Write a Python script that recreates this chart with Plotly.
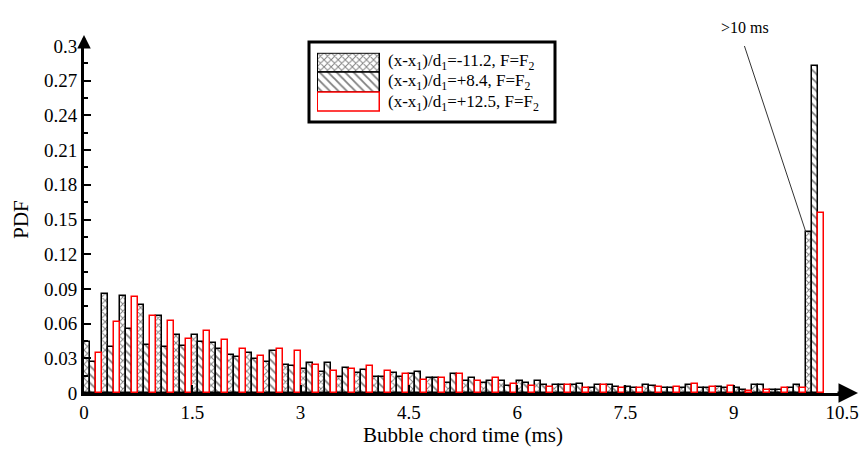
import plotly.graph_objects as go

# ---------------- data ----------------
bin_width = 0.25
bin_left = [bin_width * i for i in range(41)]          # last bin = ">10 ms"
bin_center = [b + bin_width / 2 for b in bin_left]

pdf_m112 = [0.044, 0.086, 0.084, 0.076, 0.067, 0.050, 0.050, 0.043, 0.033, 0.035,
            0.027, 0.024, 0.021, 0.018, 0.014, 0.017, 0.014, 0.017, 0.016, 0.013,
            0.009, 0.010, 0.009, 0.010, 0.010, 0.010, 0.007, 0.007, 0.004, 0.007,
            0.0055, 0.0066, 0.004, 0.004, 0.004, 0.005, 0.004, 0.0066, 0.003, 0.004,
            0.139]
pdf_p84 = [0.027, 0.040, 0.055, 0.0415, 0.040, 0.041, 0.044, 0.038, 0.031, 0.029,
           0.036, 0.023, 0.026, 0.026, 0.022, 0.020, 0.014, 0.014, 0.018, 0.013,
           0.016, 0.013, 0.010, 0.006, 0.009, 0.0066, 0.0066, 0.008, 0.0066, 0.005,
           0.004, 0.006, 0.004, 0.0066, 0.004, 0.004, 0.003, 0.0066, 0.003, 0.0066,
           0.283]
pdf_p125 = [0.035, 0.061, 0.083, 0.067, 0.062, 0.047, 0.054, 0.046, 0.038, 0.032,
            0.038, 0.036, 0.024, 0.019, 0.021, 0.023, 0.019, 0.016, 0.0115, 0.013,
            0.016, 0.010, 0.013, 0.008, 0.006, 0.0055, 0.0066, 0.004, 0.0066, 0.004,
            0.004, 0.005, 0.005, 0.008, 0.0055, 0.006, 0.002, 0.0026, 0.004, 0.004,
            0.156]

series_names = ["(x-x<sub>1</sub>)/d<sub>1</sub>=-11.2, F=F<sub>2</sub>",
                "(x-x<sub>1</sub>)/d<sub>1</sub>=+8.4, F=F<sub>2</sub>",
                "(x-x<sub>1</sub>)/d<sub>1</sub>=+12.5, F=F<sub>2</sub>"]

x_ticks = [0, 1.5, 3, 4.5, 6, 7.5, 9, 10.5]
x_ticktext = ["0", "1.5", "3", "4.5", "6", "7.5", "9", "10.5"]
y_ticks = [0, 0.03, 0.06, 0.09, 0.12, 0.15, 0.18, 0.21, 0.24, 0.27, 0.3]
y_ticktext = ["0", "0.03", "0.06", "0.09", "0.12", "0.15", "0.18", "0.21", "0.24", "0.27", "0.3"]

# ---------------- figure ----------------
FONT = "Liberation Serif"
W, H = 859, 451
ML, MR, MT, MB = 84, 17, 46, 58
PW, PH = W - ML - MR, H - MT - MB

def px_x(p):  # pixel -> paper x
    return (p - ML) / PW

def px_y(p):  # pixel -> paper y
    return (H - MB - p) / PH

fig = go.Figure()

styles = [
    dict(color="white", line=dict(color="black", width=1.5),
         pattern=dict(shape="x", fgcolor="black", bgcolor="white", size=5, solidity=0.35)),
    dict(color="white", line=dict(color="black", width=1.5),
         pattern=dict(shape="\\", fgcolor="black", bgcolor="white", size=6, solidity=0.3)),
    dict(color="white", line=dict(color="red", width=1.5)),
]
for vals, name, st in zip([pdf_m112, pdf_p84, pdf_p125], series_names, styles):
    fig.add_trace(go.Bar(x=bin_center, y=vals, name=name, marker=st, showlegend=False))

# legend swatches (inset axes)
fig.add_trace(go.Bar(
    x=[1, 1, 1], y=[2, 1, 0], orientation="h", width=1,
    xaxis="x2", yaxis="y2", showlegend=False,
    marker=dict(color="white",
                line=dict(color=["black", "black", "red"], width=1.5),
                pattern=dict(shape=["x", "\\", ""], fgcolor="black", bgcolor="white",
                             size=[5, 6, 6], solidity=[0.35, 0.3, 0.3])),
))

fig.update_layout(
    width=W, height=H,
    margin=dict(l=ML, r=MR, t=MT, b=MB),
    paper_bgcolor="white", plot_bgcolor="white",
    barmode="group", bargap=0, bargroupgap=0,
    font=dict(family=FONT, size=19, color="black"),
    xaxis=dict(range=[0, 10.5], showline=True, linewidth=3, linecolor="black",
               ticks="inside", ticklen=8, tickwidth=2, tickcolor="black",
               tickvals=x_ticks, ticktext=x_ticktext, showgrid=False, zeroline=False,
               automargin=False,
               title=dict(text="Bubble chord time (ms)", font=dict(size=21), standoff=5),
               tickfont=dict(size=19)),
    yaxis=dict(range=[0, 0.3], showline=True, linewidth=3, linecolor="black",
               ticks="inside", ticklen=7, tickwidth=2, tickcolor="black",
               tickvals=y_ticks, ticktext=y_ticktext, showgrid=False, zeroline=False,
               automargin=False,
               minor=dict(dtick=0.015, ticks="inside", ticklen=4, tickwidth=1.5,
                          tickcolor="black", showgrid=False),
               title=dict(text="PDF", font=dict(size=21), standoff=10),
               tickfont=dict(size=19)),
    xaxis2=dict(domain=[px_x(317), px_x(381)], anchor="y2", range=[-0.02, 1.02],
                visible=False, fixedrange=True),
    yaxis2=dict(domain=[px_y(112.7), px_y(52.7)], anchor="x2", range=[-0.53, 2.53],
                visible=False, fixedrange=True),
)

# legend frame
fig.add_shape(type="rect", xref="paper", yref="paper",
              x0=px_x(309), x1=px_x(555), y0=px_y(122), y1=px_y(42),
              line=dict(color="black", width=3), fillcolor="white", layer="below")
for i, name in enumerate(series_names):
    fig.add_annotation(xref="paper", yref="paper", x=px_x(386), y=px_y(62 + 20.3 * i),
                       text=name, showarrow=False, xanchor="left", yanchor="middle",
                       font=dict(family=FONT, size=17))

# axis arrows
fig.add_annotation(xref="paper", yref="paper", x=px_x(858), y=0, ax=-22, ay=0,
                   text="", showarrow=True, arrowhead=2, arrowsize=1.3, arrowwidth=3,
                   arrowcolor="black", standoff=0)
fig.add_annotation(xref="paper", yref="paper", x=0, y=px_y(35), ax=0, ay=11,
                   text="", showarrow=True, arrowhead=2, arrowsize=0.9, arrowwidth=3,
                   arrowcolor="black", standoff=0)

# ">10 ms" label with leader line
fig.add_annotation(xref="paper", yref="paper", x=px_x(745), y=px_y(28),
                   xanchor="center", yanchor="middle",
                   text=">10 ms", showarrow=False, font=dict(family=FONT, size=16))
fig.add_shape(type="line", xref="x", yref="y",
              x0=9.13, y0=0.3035, x1=bin_left[40], y1=pdf_m112[40],
              line=dict(color="#333333", width=1))

fig.write_html("out.html")
